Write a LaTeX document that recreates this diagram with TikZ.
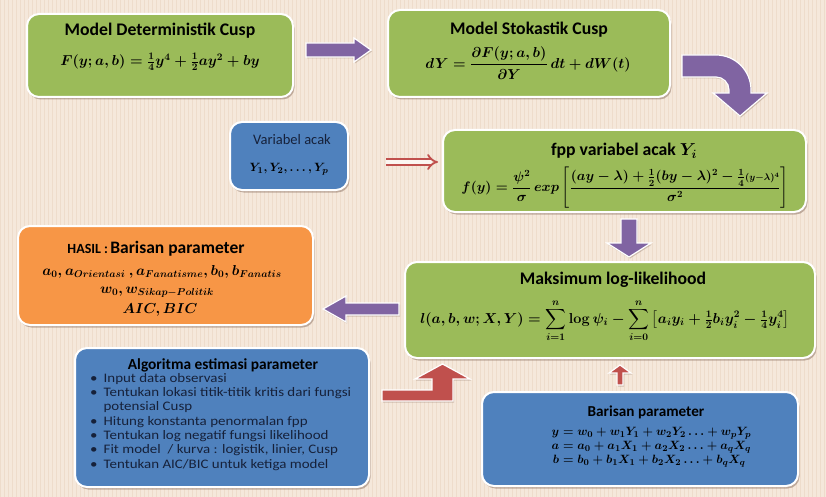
\documentclass[tikz,border=0pt]{standalone}
\usepackage{amsmath}
\usepackage[no-math]{fontspec}
\setmainfont{Carlito}
\newfontfamily\listfont{Carlito}[FakeStretch=1.15]
\usetikzlibrary{calc,shadows,arrows.meta}

\definecolor{bgc}{HTML}{F5E8DB}
\definecolor{gridc}{HTML}{EEDCCB}
\definecolor{grn}{HTML}{9BBB59}
\definecolor{blu}{HTML}{4F81BD}
\definecolor{org}{HTML}{F79646}
\definecolor{prp}{HTML}{8064A2}
\definecolor{rdd}{HTML}{C0504D}
\definecolor{shd}{HTML}{8A7060}
\definecolor{navy}{HTML}{16213A}

% straight block arrow: style, start, tip, half body, half head, head length
\newcommand\blkarrow[6]{%
  \coordinate (ba-h) at ($(#3)!#6!(#2)$);
  \path[#1] ($(#2)!#4!90:(#3)$) -- ($(ba-h)!#4!90:(#3)$) -- ($(ba-h)!#5!90:(#3)$)
    -- (#3) -- ($(ba-h)!#5!-90:(#3)$) -- ($(ba-h)!#4!-90:(#3)$)
    -- ($(#2)!#4!-90:(#3)$) -- cycle;}
% left-hand side of an equation, right aligned in a fixed box
\newcommand\lhsbox[1]{\makebox[9pt][r]{$#1$}}

\begin{document}
\begin{tikzpicture}[x=1pt,y=-1pt,
  box/.style={draw=white, line width=2pt, rounded corners=12pt, inner sep=0pt,
    drop shadow={shadow xshift=1.5pt, shadow yshift=-2.5pt, fill=shd, opacity=0.5}},
  ttl/.style={font=\fontsize{17.7}{20}\selectfont\bfseries\boldmath, inner sep=0pt},
  frm/.style={font=\fontsize{14.2}{17}\selectfont\boldmath, inner sep=0pt},
  bfrm/.style={font=\fontsize{12.7}{14}\selectfont\boldmath, inner sep=0pt, anchor=base west},
  parr/.style={fill=prp, draw=white, line width=1.2pt,
    drop shadow={shadow xshift=1pt, shadow yshift=-1.5pt, fill=shd, opacity=0.35}},
  rarr/.style={fill=rdd, draw=white, line width=1.2pt,
    drop shadow={shadow xshift=1pt, shadow yshift=-1.5pt, fill=shd, opacity=0.35}}]

% background with a fine texture
\useasboundingbox (0,0) rectangle (826,497);
\fill[bgc] (0,0) rectangle (826,497);
\draw[gridc, line width=0.4pt, step=4] (0,0) grid (826,497);

% ---------- boxes ----------
\node[box, fill=grn, minimum width=266pt, minimum height=83pt] (det) at (160,55.5) {};
\node[box, fill=grn, minimum width=282pt, minimum height=87pt] (sto) at (529,53.5) {};
\node[box, fill=blu, minimum width=118pt, minimum height=68pt] (var) at (289,156) {};
\node[box, fill=grn, minimum width=363pt, minimum height=82pt] (fpp) at (624.5,171) {};
\node[box, fill=org, minimum width=295pt, minimum height=99pt] (has) at (165.5,275.5) {};
\node[box, fill=grn, minimum width=410pt, minimum height=96pt] (mak) at (610,310) {};
\node[box, fill=blu, minimum width=294pt, minimum height=139pt] (alg) at (222,417.5) {};
\node[box, fill=blu, minimum width=316pt, minimum height=94pt] (bar) at (640,439) {};

% ---------- texts ----------
\node[ttl] (detT) at (160,31) {Model Deterministik Cusp};
\node[frm] (detF) at (160,62) {$F(y;a,b)=\frac{1}{4}y^4+\frac{1}{2}ay^2+by$};

\node[ttl] (stoT) at (529,30) {Model Stokastik Cusp};
\node[frm, font=\fontsize{13.6}{16}\selectfont\boldmath] (stoF) at (528,63) {$dY=\dfrac{\partial F(y;a,b)}{\partial Y}\,dt+dW(t)$};

\node[inner sep=0pt, text=navy, font=\fontsize{14.5}{17}\selectfont] (varT) at (292,140) {Variabel acak};
\node[frm, font=\fontsize{13}{15}\selectfont\boldmath] (varF) at (289,169) {$Y_1,Y_2,\dots,Y_p$};

\node[ttl] (fppT) at (624,151) {fpp variabel acak $Y_i$};
\node[frm, font=\fontsize{13.6}{16}\selectfont\boldmath] (fppF) at (625,188) {\scalebox{0.955}{$f(y)=\dfrac{\psi^2}{\sigma}\,exp\left[\dfrac{(ay-\lambda)+\frac{1}{2}(by-\lambda)^2-\frac{1}{4}{\scriptstyle(y-\lambda)^4}}{\sigma^2}\right]$}};

\node[inner sep=0pt, font=\bfseries] (hasT) at (156,249)
  {{\fontsize{14}{16}\selectfont HASIL :} {\fontsize{17.5}{20}\selectfont Barisan parameter}};
\node[frm] (hasA) at (162,272) {$a_0, a_{Orientasi}\ ,a_{Fanatisme}, b_0, b_{Fanatis}$};
\node[frm] (hasW) at (157,292) {$w_0, w_{Sikap-Politik}$};
\node[frm] (hasC) at (160,310) {$AIC, BIC$};

\node[ttl] (makT) at (613,280) {Maksimum log-likelihood};
\node[frm] (makF) at (605,321) {$l(a,b,w;X,Y)=\displaystyle\sum_{i=1}^{n}\log\psi_i-\sum_{i=0}^{n}\left[a_iy_i+\tfrac{1}{2}b_iy_i^2-\tfrac{1}{4}y_i^4\right]$};

\node[inner sep=0pt, font=\fontsize{15.4}{18}\selectfont\bfseries] (algT) at (223,365) {Algoritma estimasi parameter};
\node[inner sep=0pt, anchor=north west, font=\listfont\fontsize{13}{14.3}\selectfont, text=navy] (algL) at (90,372)
  {\begin{tabular}{@{}l@{\hspace{6pt}}l@{}}
   \textbullet & Input data observasi\\
   \textbullet & Tentukan lokasi titik-titik kritis dari fungsi\\
               & potensial Cusp\\
   \textbullet & Hitung konstanta penormalan fpp\\
   \textbullet & Tentukan log negatif fungsi likelihood\\
   \textbullet & Fit model\ \ / kurva : logistik, linier, Cusp\\
   \textbullet & Tentukan AIC/BIC untuk ketiga model
   \end{tabular}};

\node[inner sep=0pt, font=\fontsize{15.2}{18}\selectfont\bfseries] (barT) at (646,412) {Barisan parameter};
\node[bfrm] (barY) at (550,435.5) {\lhsbox{y}$\;=w_0+w_1Y_1+w_2Y_2\ldots+w_pY_p$};
\node[bfrm] (barA) at (550,449.5) {\lhsbox{a}$\;=a_0+a_1X_1+a_2X_2\ldots+a_qX_q$};
\node[bfrm] (barB) at (550,463.5) {\lhsbox{b}$\;=b_0+b_1X_1+b_2X_2\ldots+b_qX_q$};

% ---------- arrows ----------
\coordinate (p1s) at ($(det.east)+(12,-5.5)$);
\coordinate (p1e) at ($(sto.west)+(-16,-3.5)$);
\blkarrow{parr}{p1s}{p1e}{7pt}{12pt}{17pt}

% bent arrow from the stochastic model down to the density
\path[parr] (682,55) -- (716,55) arc[start angle=-90, end angle=0, radius=35]
  -- (751,93) -- (767,93) -- (740,116) -- (713,93) -- (729,93) -- (729,90)
  arc[start angle=0, end angle=-90, radius=13] -- (682,77) -- cycle;

\coordinate (p3s) at ($(fpp.south)+(4.5,6)$);
\coordinate (p3e) at ($(mak.north)+(19,-4)$);
\blkarrow{parr}{p3s}{p3e}{8pt}{22pt}{14pt}

\coordinate (p4s) at ($(mak.west)+(-5,-1)$);
\coordinate (p4e) at ($(has.east)+(9,33.5)$);
\blkarrow{parr}{p4s}{p4e}{6pt}{13pt}{23pt}

\coordinate (r1s) at ($(var.east)+(37,6)$);
\coordinate (r1e) at ($(fpp.west)+(-4,-9)$);
\draw[rdd, line width=1.8pt, double=bgc!40!white, double distance=3.5pt, -{Implies}] (r1s) -- (r1e);

% bent arrow from the algorithm up to the likelihood
\path[rarr] (382,390) -- (432,390) -- (432,379) -- (415,379) -- (442.5,364)
  -- (470,379) -- (453,379) -- (453,401) -- (382,401) -- cycle;

\coordinate (r3s) at ($(bar.north)+(-20,-6)$);
\coordinate (r3e) at ($(mak.south)+(10,6)$);
\blkarrow{rarr}{r3s}{r3e}{3pt}{11pt}{8pt}

\end{tikzpicture}
\end{document}
